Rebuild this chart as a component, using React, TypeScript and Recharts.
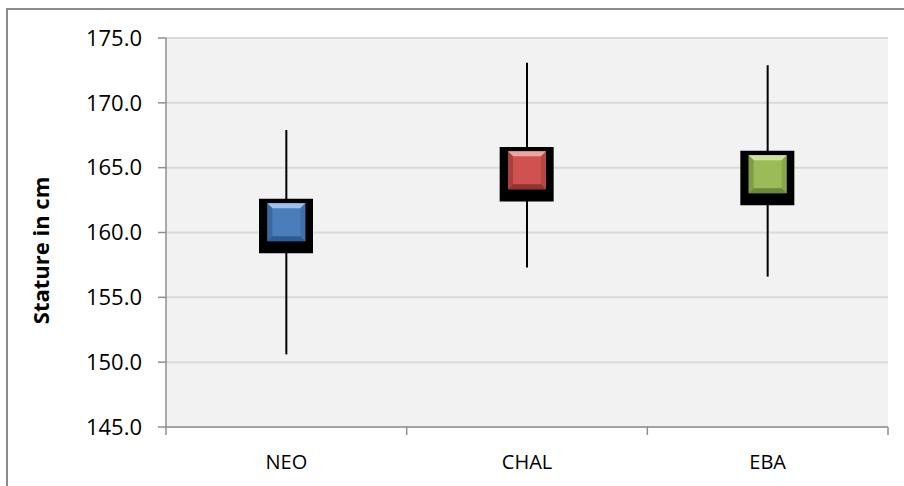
import React from 'react';
import { ComposedChart, Bar, Scatter, XAxis, YAxis, CartesianGrid, Cell, ErrorBar } from 'recharts';

const categories = ['NEO', 'CHAL', 'EBA'];
const highValues = [167.9, 173.1, 172.9];
const lowValues = [150.6, 157.3, 156.6];
const boxTop = [162.6, 166.6, 166.3];
const boxBottom = [158.4, 162.4, 162.1];
const markerValues = [160.8, 164.8, 164.5];
const yTicks = [145, 150, 155, 160, 165, 170, 175];

const COLORS = ['#4a7ebb', '#cf524e', '#9bbb59'];
const LIGHT = ['#9cc0ea', '#eba5a2', '#cfe29c'];
const DARK = ['#2d5c94', '#8e3532', '#6d8937'];

const AXIS = '#8f8f8f';
const TICK_MARGIN = 28;

const data = categories.map((name, i) => ({
    name,
    box: [boxBottom[i], boxTop[i]],
    marker: markerValues[i],
    // whisker as asymmetric error around the marker
    whisker: [markerValues[i] - lowValues[i], highValues[i] - markerValues[i]],
}));

// bevelled square marker, like the excel preset
const MarkerShape = (props: any) => {
    const { cx, cy, index } = props;
    const s = 38;
    const b = 5;
    const x = cx - s / 2;
    const y = cy - s / 2;
    return (
        <g>
            <rect x={x} y={y} width={s} height={s} fill={COLORS[index]} />
            <polygon points={`${x},${y} ${x + s},${y} ${x + s - b},${y + b} ${x + b},${y + b}`} fill={LIGHT[index]} />
            <polygon points={`${x},${y} ${x + b},${y + b} ${x + b},${y + s - b} ${x},${y + s}`} fill={DARK[index]} opacity={0.6} />
            <polygon points={`${x + s},${y} ${x + s},${y + s} ${x + s - b},${y + s - b} ${x + s - b},${y + b}`} fill={DARK[index]} opacity={0.4} />
            <polygon points={`${x},${y + s} ${x + b},${y + s - b} ${x + s - b},${y + s - b} ${x + s},${y + s}`} fill={DARK[index]} />
        </g>
    );
};

// category label plus the excel-style tick marks on the category boundaries
const CategoryTick = (props: any) => {
    const { x, y, payload, index, visibleTicksCount, width } = props;
    const axisY = y - TICK_MARGIN;
    const half = payload.offset || width / visibleTicksCount / 2;
    const last = index === visibleTicksCount - 1;
    return (
        <g>
            <line x1={x - half} x2={x - half} y1={axisY} y2={axisY + 8} stroke={AXIS} strokeWidth={1.5} />
            {last && <line x1={x + half} x2={x + half} y1={axisY} y2={axisY + 8} stroke={AXIS} strokeWidth={1.5} />}
            <text x={x} y={y} dy="0.71em" textAnchor="middle" fontSize={20} fill="#000">
                {payload.value}
            </text>
        </g>
    );
};

const YTitle = (props: any) => {
    const { viewBox } = props;
    const x = 41;
    const y = viewBox.y + viewBox.height / 2 + 18;
    return (
        <text x={x} y={y} transform={`rotate(-90, ${x}, ${y})`} textAnchor="middle" fontSize={22} fontWeight="bold" fill="#000">
            Stature in cm
        </text>
    );
};

export default function App() {
    return (
        <div
            style={{
                position: 'absolute',
                left: 6,
                top: 8,
                width: 896,
                height: 476,
                borderTop: '2px solid #8a8a8a',
                borderLeft: '2px solid #8a8a8a',
                background: '#fff',
                fontFamily: '"Open Sans", sans-serif',
            }}
        >
            <ComposedChart width={896} height={476} data={data} margin={{ top: 28, right: 16, bottom: 0, left: 0 }}>
                <CartesianGrid vertical={false} stroke="#d9d9d9" strokeWidth={2} fill="#f2f2f2" />
                <XAxis
                    dataKey="name"
                    tickLine={false}
                    tickSize={0}
                    tickMargin={TICK_MARGIN}
                    height={59}
                    stroke={AXIS}
                    strokeWidth={1.5}
                    tick={<CategoryTick />}
                />
                <YAxis
                    domain={[145, 175]}
                    ticks={yTicks}
                    allowDataOverflow
                    tickFormatter={(v: number) => v.toFixed(1)}
                    width={158}
                    tickSize={8}
                    tickMargin={16}
                    stroke={AXIS}
                    strokeWidth={1.5}
                    tick={{ fontSize: 22, fill: '#000' }}
                    label={<YTitle />}
                />
                <Bar dataKey="box" barSize={54} fill="#000" isAnimationActive={false} />
                <Scatter dataKey="marker" shape={<MarkerShape />} isAnimationActive={false}>
                    <ErrorBar dataKey="whisker" width={0} stroke="#000" strokeWidth={2} direction="y" />
                    {data.map((entry, i) => (
                        <Cell key={`cell-${i}`} fill={COLORS[i]} />
                    ))}
                </Scatter>
            </ComposedChart>
        </div>
    );
}
